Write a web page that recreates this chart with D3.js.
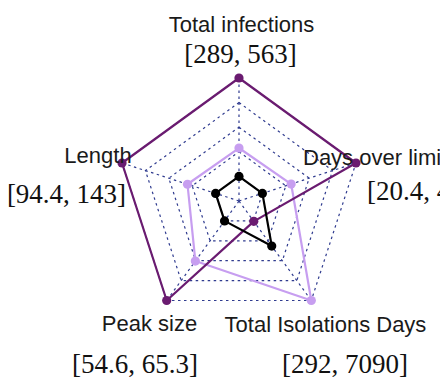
<!DOCTYPE html>
<html>
<head>
<meta charset="utf-8">
<script src="https://cdn.jsdelivr.net/npm/d3@7"></script>
<style>
  html, body { margin: 0; padding: 0; background: #fff; overflow: hidden; }
  svg { display: block; }
</style>
</head>
<body>
<svg id="chart" width="440" height="378"></svg>
<script>
// Axes of the radar, clockwise from the top
const axes = ["Total infections", "Days over limit", "Total Isolations Days", "Peak size", "Length"];
const axisMin = [289, 20.4, 292, 54.6, 94.4];
const axisMax = [563, 43.5, 7090, 65.3, 143];
const rangeLabels = ["[289, 563]", "[20.4, 43.5]", "[292, 7090]", "[54.6, 65.3]", "[94.4, 143]"];

// Scenario values in each axis' own units
const scenarioDark  = [563, 43.5, 330, 65.3, 143];
const scenarioLight = [368, 27.5, 7090, 60.0, 109];
const scenarioBlack = [289, 20.4, 2440, 54.6, 94.4];

const svg = d3.select("#chart");
const cx = 239, cy = 201, R = 123;
const ringLevels = [0.2, 0.4, 0.6, 0.8, 1.0];

const angle = d3.scaleLinear().domain([0, axes.length]).range([-Math.PI / 2, 1.5 * Math.PI]);
// radial scale per axis: minimum sits on the innermost ring, maximum on the outer ring
const radial = axes.map((a, i) => d3.scaleLinear().domain([axisMin[i], axisMax[i]]).range([0.2 * R, R]));

const pt = (i, r) => [cx + r * Math.cos(angle(i)), cy + r * Math.sin(angle(i))];

const gridColor = "#2f3b8f";
const grid = svg.append("g");

// concentric dashed pentagons
ringLevels.forEach(l => {
  const pts = axes.map((a, i) => pt(i, l * R));
  grid.append("path")
    .attr("d", d3.line()(pts) + "Z")
    .attr("fill", "none")
    .attr("stroke", gridColor)
    .attr("stroke-width", 1.2)
    .attr("stroke-dasharray", "2.5,3.5");
});
// dashed spokes
axes.forEach((a, i) => {
  const [x, y] = pt(i, R);
  grid.append("line")
    .attr("x1", cx).attr("y1", cy).attr("x2", x).attr("y2", y)
    .attr("stroke", gridColor)
    .attr("stroke-width", 1.2)
    .attr("stroke-dasharray", "2.5,3.5");
});

function drawSeries(values, color) {
  const pts = values.map((v, i) => pt(i, radial[i](v)));
  const g = svg.append("g");
  g.append("path")
    .attr("d", d3.line()(pts) + "Z")
    .attr("fill", "none")
    .attr("stroke", color)
    .attr("stroke-width", 2.2)
    .attr("stroke-linejoin", "round");
  g.selectAll("circle").data(pts).join("circle")
    .attr("cx", d => d[0]).attr("cy", d => d[1])
    .attr("r", 4.6)
    .attr("fill", color);
}

drawSeries(scenarioLight, "#c79ef0");
drawSeries(scenarioDark, "#6a1b70");
drawSeries(scenarioBlack, "#000000");

// axis name and range labels
const labelPos = [
  { name: [241.5, 32, "middle"], range: [240.5, 63, "middle"] },
  { name: [303, 165, "start"],   range: [367, 200, "start"] },
  { name: [325.5, 332, "middle"], range: [345, 373, "middle"] },
  { name: [149.5, 331, "middle"], range: [135, 373, "middle"] },
  { name: [98, 163, "middle"],   range: [66.5, 203, "middle"] }
];

axes.forEach((a, i) => {
  const p = labelPos[i];
  svg.append("text")
    .attr("x", p.name[0]).attr("y", p.name[1])
    .attr("text-anchor", p.name[2])
    .attr("font-family", "Liberation Sans, Arial, sans-serif")
    .attr("font-size", 22)
    .attr("fill", "#1a1a1a")
    .text(a);
  svg.append("text")
    .attr("x", p.range[0]).attr("y", p.range[1])
    .attr("text-anchor", p.range[2])
    .attr("font-family", "Liberation Serif, Times New Roman, serif")
    .attr("font-size", 27)
    .attr("fill", "#111")
    .text(rangeLabels[i]);
});
</script>
</body>
</html>
